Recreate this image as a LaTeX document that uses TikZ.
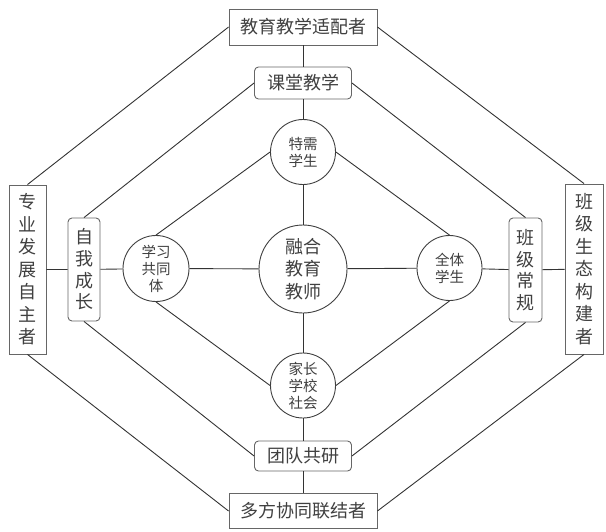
\documentclass[tikz,border=0pt]{standalone}
\usepackage{fontspec}
\setmainfont{Noto Sans CJK SC}
\usepackage{xcolor}
\usetikzlibrary{positioning}

\begin{document}
\begin{tikzpicture}[x=1pt, y=-1pt, line width=0.9pt,
    txt/.style={text=black!75, inner sep=0pt, align=center},
    role/.style={txt, draw=black!60, fill=white, font=\fontsize{18}{22.5}\selectfont},
    task/.style={role, rounded corners=4pt},
    hub/.style={txt, circle, draw=black!75, fill=white},
    obj/.style={hub, minimum size=65pt, font=\fontsize{14.5}{17}\selectfont},
    link/.style={draw=black!80}]

    \useasboundingbox (0,0) rectangle (606,531);

    % outer roles
    \node[role, minimum width=148pt, minimum height=36pt] (top) at (303,27) {教育教学适配者};
    \node[role, minimum width=148pt, minimum height=35pt] (bot) at (303,511) {多方协同联结者};
    \node[role, minimum width=37pt, minimum height=169pt] (lft) at (27.5,269.5)
      {专\\业\\发\\展\\自\\主\\者};
    \node[role, minimum width=38pt, minimum height=170pt] (rgt) at (584,269)
      {班\\级\\生\\态\\构\\建\\者};

    % inner tasks
    \node[task, minimum width=97pt, minimum height=32pt] (class) at (303,83) {课堂教学};
    \node[task, minimum width=97pt, minimum height=30pt] (team) at (303,456) {团队共研};
    \node[task, minimum width=32pt, minimum height=103pt, font=\fontsize{18}{21.7}\selectfont]
      (self) at (84,269.5) {自\\我\\成\\长};
    \node[task, minimum width=33pt, minimum height=104pt, font=\fontsize{18}{21.7}\selectfont]
      (rule) at (525.5,270) {班\\级\\常\\规};

    % circles
    \node[hub, minimum size=88pt, font=\fontsize{18}{22.5}\selectfont] (core) at (303,269)
      {融合\\教育\\教师};
    \node[obj] (spec) at (303,152) {特需\\学生};
    \node[obj] (home) at (303,385.5) {家长\\学校\\社会};
    \node[obj, minimum size=66pt] (peer) at (156,268.5) {学习\\共同\\体};
    \node[obj] (all) at (449.5,268) {全体\\学生};

    % spokes
    \draw[link] (top) -- (class) -- (spec) -- (core) -- (home) -- (team) -- (bot);
    \draw[link] (lft) -- (self) -- (peer) -- (core) -- (all) -- (rule) -- (rgt);

    % outer ring
    \draw[link] (top.west) -- (lft.north);
    \draw[link] (top.east) -- (rgt.north);
    \draw[link] (bot.west) -- (lft.south);
    \draw[link] (bot.east) -- (rgt.south);

    % inner ring
    \draw[link] (class.west) -- (self.north);
    \draw[link] (class.east) -- (rule.north);
    \draw[link] (team.west) -- (self.south);
    \draw[link] (team.east) -- (rule.south);

    % diamond
    \draw[link] (spec.west) -- (peer.north);
    \draw[link] (spec.east) -- (all.north);
    \draw[link] (home.west) -- (peer.south);
    \draw[link] (home.east) -- (all.south);
\end{tikzpicture}
\end{document}
